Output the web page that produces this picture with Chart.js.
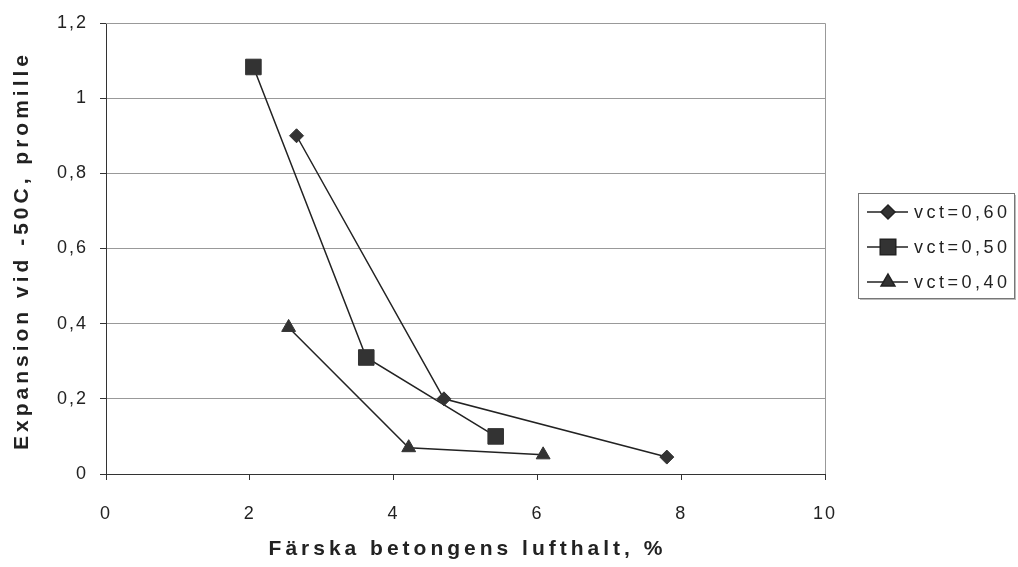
<!DOCTYPE html>
<html>
<head>
<meta charset="utf-8">
<script src="https://cdn.jsdelivr.net/npm/chart.js@4/dist/chart.umd.min.js"></script>
<style>
  html, body { margin: 0; padding: 0; background: #fff; }
  #wrap { width: 1018px; height: 567px; }
</style>
</head>
<body>
<div id="wrap"><canvas id="chart" width="1018" height="567"></canvas></div>
<script>
// Données
const seriesNames = ['vct=0,60', 'vct=0,50', 'vct=0,40'];
const luft060 = [2.65, 4.7, 7.8];
const exp060 = [0.9, 0.2, 0.045];
const luft050 = [2.05, 3.62, 5.42];
const exp050 = [1.083, 0.31, 0.1];
const luft040 = [2.54, 4.21, 6.08];
const exp040 = [0.39, 0.07, 0.051];
const xTicks = [0, 2, 4, 6, 8, 10];
const yTicks = [0, 0.2, 0.4, 0.6, 0.8, 1, 1.2];
const xTitle = 'Färska betongens lufthalt, %';
const yTitle = 'Expansion vid -50C, promille';

const FONT = "'Liberation Sans', Arial, sans-serif";

function toPoints(xs, ys) {
    return xs.map((x, i) => ({ x: x, y: ys[i] }));
}

const markers = [
    { style: 'rectRot', radius: 7 },
    { style: 'rect', radius: 11 },
    { style: 'triangle', radius: 8 }
];

const datasets = [
    toPoints(luft060, exp060),
    toPoints(luft050, exp050),
    toPoints(luft040, exp040)
].map((pts, i) => ({
    label: seriesNames[i],
    data: pts,
    borderColor: '#222',
    borderWidth: 1.5,
    backgroundColor: '#333',
    pointBackgroundColor: '#333',
    pointBorderColor: '#333',
    pointBorderWidth: 1,
    pointStyle: markers[i].style,
    pointRadius: markers[i].radius,
    showLine: true,
    tension: 0
}));

// Espacement des lettres comme sur l'original
const spacingPlugin = {
    id: 'spacing',
    beforeDraw(chart) {
        chart.ctx.letterSpacing = '2px';
    }
};

// Cadre, titres d'axes et légende dessinés à la main
const framePlugin = {
    id: 'frame',
    afterDraw(chart) {
        const ctx = chart.ctx;
        const a = chart.chartArea;
        ctx.save();
        ctx.strokeStyle = '#999';
        ctx.lineWidth = 1;
        ctx.beginPath();
        ctx.moveTo(a.left, a.top + 0.5);
        ctx.lineTo(a.right + 0.5, a.top + 0.5);
        ctx.lineTo(a.right + 0.5, a.bottom);
        ctx.stroke();

        // titres
        ctx.fillStyle = '#222';
        ctx.font = 'bold 21px ' + FONT;
        ctx.letterSpacing = '4px';
        ctx.textAlign = 'center';
        ctx.textBaseline = 'middle';
        ctx.fillText(xTitle, (a.left + a.right) / 2 + 2, 549);
        ctx.save();
        ctx.translate(22, (a.top + a.bottom) / 2 + 2);
        ctx.rotate(-Math.PI / 2);
        ctx.fillText(yTitle, 0, 0);
        ctx.restore();

        // légende
        const bx = 858, by = 193, bw = 156, bh = 105;
        ctx.fillStyle = '#bbb';
        ctx.fillRect(bx + 2, by + 2, bw, bh);
        ctx.fillStyle = '#fff';
        ctx.fillRect(bx, by, bw, bh);
        ctx.strokeStyle = '#777';
        ctx.lineWidth = 1;
        ctx.strokeRect(bx + 0.5, by + 0.5, bw, bh);

        ctx.font = '18px ' + FONT;
        ctx.letterSpacing = '3.5px';
        ctx.textAlign = 'left';
        chart.data.datasets.forEach((ds, i) => {
            const y = by + 19 + i * 35;
            ctx.strokeStyle = '#222';
            ctx.lineWidth = 1.5;
            ctx.beginPath();
            ctx.moveTo(867, y);
            ctx.lineTo(908, y);
            ctx.stroke();
            ctx.fillStyle = '#333';
            Chart.helpers.drawPoint(ctx, {
                pointStyle: ds.pointStyle,
                radius: ds.pointRadius,
                borderWidth: 1
            }, 888, y);
            ctx.fillStyle = '#222';
            ctx.fillText(ds.label, 914, y + 1);
        });
        ctx.restore();
        ctx.letterSpacing = '0px';
    }
};

new Chart(document.getElementById('chart'), {
    type: 'scatter',
    data: { datasets: datasets },
    options: {
        responsive: false,
        animation: false,
        layout: { padding: { left: 0, right: 193, top: 23, bottom: 0 } },
        plugins: {
            legend: { display: false },
            tooltip: { enabled: false }
        },
        scales: {
            x: {
                type: 'linear',
                min: 0,
                max: 10,
                afterBuildTicks: (scale) => { scale.ticks = xTicks.map(v => ({ value: v })); },
                afterFit: (scale) => { scale.height = 93; },
                grid: {
                    drawOnChartArea: false,
                    drawTicks: true,
                    tickLength: 6,
                    color: '#333'
                },
                border: { color: '#333', width: 1 },
                ticks: {
                    padding: 23,
                    color: '#222',
                    font: { family: FONT, size: 18 }
                }
            },
            y: {
                type: 'linear',
                min: 0,
                max: 1.2,
                afterBuildTicks: (scale) => { scale.ticks = yTicks.map(v => ({ value: v })); },
                afterFit: (scale) => { scale.width = 106; },
                grid: {
                    color: '#999',
                    tickColor: '#333',
                    tickLength: 6
                },
                border: { color: '#333', width: 1 },
                ticks: {
                    padding: 12,
                    color: '#222',
                    font: { family: FONT, size: 18 },
                    callback: (v) => String(v).replace('.', ',')
                }
            }
        }
    },
    plugins: [spacingPlugin, framePlugin]
});
</script>
</body>
</html>
